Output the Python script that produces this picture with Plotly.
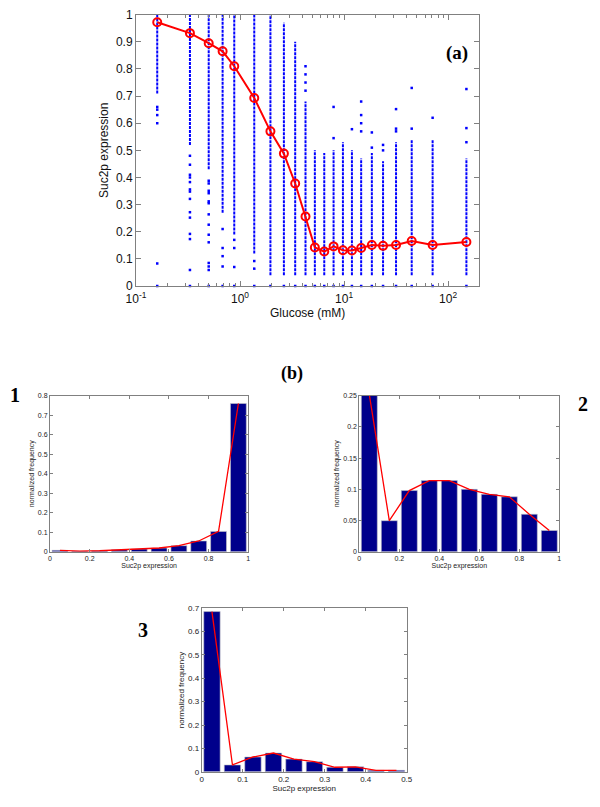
import plotly.graph_objects as go

# ---------------- Panel (a) data ----------------
glucose = [0.16, 0.33, 0.5, 0.68, 0.88, 1.37, 1.96, 2.64, 3.39, 4.26, 5.24,
           6.45, 7.93, 9.75, 11.9, 14.6, 18.5, 23.7, 31.6, 44.7, 71, 150]
mean_expr = [0.972, 0.932, 0.895, 0.865, 0.81, 0.693, 0.57, 0.488, 0.378,
             0.256, 0.142, 0.127, 0.146, 0.132, 0.131, 0.14, 0.151, 0.148,
             0.151, 0.166, 0.151, 0.162]
# dense part of each cell column (low / high end)
dense_low = [0.71, 0.52, 0.43, 0.27, 0.19, 0.12, 0.04, 0.04, 0.04, 0.04, 0.04,
             0.04, 0.04, 0.04, 0.04, 0.04, 0.04, 0.04, 0.04, 0.04, 0.04, 0.04]
dense_high = [1.0, 1.0, 1.0, 1.0, 1.0, 1.0, 1.0, 0.97, 0.90, 0.68, 0.50,
              0.49, 0.50, 0.53, 0.50, 0.47, 0.49, 0.46, 0.53, 0.54, 0.54, 0.47]
# isolated cells outside the dense part
sparse_cells = [
    [0.66, 0.65, 0.63, 0.60, 0.083, 0.0],
    [0.48, 0.447, 0.41, 0.40, 0.383, 0.356, 0.348, 0.321, 0.272, 0.252, 0.192, 0.173, 0.059, 0.0],
    [0.388, 0.378, 0.351, 0.342, 0.312, 0.305, 0.264, 0.226, 0.189, 0.161, 0.085, 0.072, 0.059, 0.0],
    [0.21, 0.14, 0.11, 0.072, 0.0],
    [0.17, 0.14, 0.07, 0.0],
    [0.092, 0.064, 0.0],
    [0.0],
    [0.0],
    [0.0],
    [0.81, 0.78, 0.75, 0.72, 0.0],
    [0.0],
    [0.0],
    [0.66, 0.545, 0.0],
    [0.0],
    [0.578, 0.0],
    [0.68, 0.63, 0.60, 0.57, 0.0],
    [0.566, 0.51, 0.0],
    [0.52, 0.50, 0.0],
    [0.652, 0.58, 0.57, 0.0],
    [0.73, 0.58, 0.0],
    [0.62, 0.0],
    [0.726, 0.582, 0.53, 0.0],
]
x_ticks_a = [0.1, 1, 10, 100]
x_ticktext_a = ["10<sup>-1</sup>", "10<sup>0</sup>", "10<sup>1</sup>", "10<sup>2</sup>"]
x_minor_a = [m * d for d in (0.1, 1, 10) for m in range(2, 10)] + [200]

# ---------------- Panel (b) data ----------------
bins_1 = [0.05, 0.15, 0.25, 0.35, 0.45, 0.55, 0.65, 0.75, 0.85, 0.95]
freq_1 = [0.007, 0.003, 0.005, 0.01, 0.014, 0.019, 0.031, 0.055, 0.104, 0.76]
bins_2 = [0.05, 0.15, 0.25, 0.35, 0.45, 0.55, 0.65, 0.75, 0.85, 0.95]
freq_2 = [0.252, 0.0497, 0.098, 0.114, 0.114, 0.1, 0.092, 0.088, 0.060, 0.034]
bins_3 = [0.025, 0.075, 0.125, 0.175, 0.225, 0.275, 0.325, 0.375, 0.425, 0.475]
freq_3 = [0.686, 0.029, 0.063, 0.08, 0.054, 0.043, 0.019, 0.021, 0.006, 0.006]

BLUE = "#0000ff"
RED = "#ff0000"
NAVY = "#00008b"
FRAME = "#808080"
SANS = "Liberation Sans, Arial, sans-serif"
SERIF = "Liberation Serif, Times New Roman, serif"

fig = go.Figure()

# dense columns
dx, dy = [], []
for g, lo, hi in zip(glucose, dense_low, dense_high):
    dx += [g, g, None]
    dy += [lo, hi, None]
fig.add_trace(go.Scatter(x=dx, y=dy, mode="lines", xaxis="x", yaxis="y",
                         line=dict(color=BLUE, width=2, dash="3px,1px"),
                         showlegend=False, hoverinfo="skip"))
# isolated cells
sx, sy = [], []
for g, pts in zip(glucose, sparse_cells):
    for p in pts:
        sx.append(g)
        sy.append(p)
fig.add_trace(go.Scatter(x=sx, y=sy, mode="markers", xaxis="x", yaxis="y",
                         marker=dict(color=BLUE, size=2.5, symbol="square"),
                         showlegend=False, cliponaxis=False))
# mean curve
fig.add_trace(go.Scatter(x=glucose, y=mean_expr, mode="lines+markers",
                         xaxis="x", yaxis="y",
                         line=dict(color=RED, width=2),
                         marker=dict(symbol="circle-open", size=8, color=RED,
                                     line=dict(width=2, color=RED)),
                         showlegend=False))

# histograms
for bins, freq, xa, ya, w in [(bins_1, freq_1, "x2", "y2", 0.08),
                              (bins_2, freq_2, "x3", "y3", 0.08),
                              (bins_3, freq_3, "x4", "y4", 0.04)]:
    fig.add_trace(go.Bar(x=bins, y=freq, width=w, xaxis=xa, yaxis=ya,
                         marker=dict(color=NAVY, line=dict(color="#c8c8c8", width=0.6)),
                         showlegend=False))
    fig.add_trace(go.Scatter(x=bins, y=freq, mode="lines", xaxis=xa, yaxis=ya,
                             line=dict(color=RED, width=1.3),
                             showlegend=False))


def frame(**kw):
    d = dict(showline=True, linecolor=FRAME, linewidth=1, mirror="ticks",
             ticks="inside", tickcolor=FRAME, showgrid=False, zeroline=False,
             automargin=False, fixedrange=True, ticklabeloverflow="allow")
    d.update(kw)
    return d


# the page body adds an 8px margin, so the figure is 8px smaller and all
# reference pixel positions are shifted by that offset
OFF = 8.0
W, H = 600.0 - OFF, 807.0 - OFF


def xdom(l, r):
    return [(l - OFF) / W, (r - OFF) / W]


def ydom(top, bottom):
    return [1 - (bottom - OFF) / H, 1 - (top - OFF) / H]


small = dict(family=SANS, size=7, color="#222")
small3 = dict(family=SANS, size=8, color="#222")

fig.update_layout(
    width=int(W), height=int(H),
    margin=dict(l=0, r=0, t=0, b=0),
    paper_bgcolor="white", plot_bgcolor="white",
    showlegend=False,
    xaxis=frame(type="log", domain=xdom(136, 479.3), range=[-1, 2.3],
                tickvals=x_ticks_a, ticktext=x_ticktext_a, ticklen=5,
                ticklabelstandoff=2,
                tickfont=dict(family=SANS, size=12, color="#111"),
                minor=dict(tickvals=x_minor_a, ticks="inside", ticklen=3,
                           tickcolor=FRAME, showgrid=False),
                title=dict(text="Glucose (mM)", standoff=1,
                           font=dict(family=SANS, size=12, color="#111"))),
    yaxis=frame(domain=ydom(14.7, 286), range=[0, 1], dtick=0.1, ticklen=5,
                tickfont=dict(family=SANS, size=12, color="#111"),
                title=dict(text="Suc2p expression", standoff=4,
                           font=dict(family=SANS, size=12, color="#111"))),
    xaxis2=frame(domain=xdom(50, 248.3), range=[0, 1], dtick=0.2, ticklen=3,
                 tickfont=small, anchor="y2",
                 title=dict(text="Suc2p expression", standoff=1, font=small)),
    yaxis2=frame(domain=ydom(395.7, 551.7), range=[0, 0.8], dtick=0.1,
                 ticklen=3, tickfont=small, anchor="x2",
                 title=dict(text="normalized frequency", standoff=2, font=small)),
    xaxis3=frame(domain=xdom(359.3, 559.3), range=[0, 1], dtick=0.2, ticklen=3,
                 tickfont=small, anchor="y3",
                 title=dict(text="Suc2p expression", standoff=1, font=small)),
    yaxis3=frame(domain=ydom(395.7, 551.7), range=[0, 0.25], dtick=0.05,
                 ticklen=3, tickfont=small, anchor="x3",
                 title=dict(text="normalized frequency", standoff=2, font=small)),
    xaxis4=frame(domain=xdom(201.7, 406.7), range=[0, 0.5], dtick=0.1,
                 ticklen=3, tickfont=small3, anchor="y4",
                 title=dict(text="Suc2p expression", standoff=1, font=small3)),
    yaxis4=frame(domain=ydom(608.3, 771.7), range=[0, 0.7], dtick=0.1,
                 ticklen=3, tickfont=small3, anchor="x4",
                 title=dict(text="normalized frequency", standoff=2, font=small3)),
)

labels = [("(a)", 457, 53, 19), ("(b)", 292, 373, 18), ("1", 14.5, 395, 20),
          ("2", 583, 404, 20), ("3", 143, 630, 20)]
for txt, px, py, sz in labels:
    fig.add_annotation(text="<b>%s</b>" % txt, x=(px - OFF) / W,
                       y=1 - (py - OFF) / H,
                       xref="paper", yref="paper", showarrow=False,
                       xanchor="center", yanchor="middle",
                       font=dict(family=SERIF, size=sz, color="black"))

fig.write_html("out.html")
